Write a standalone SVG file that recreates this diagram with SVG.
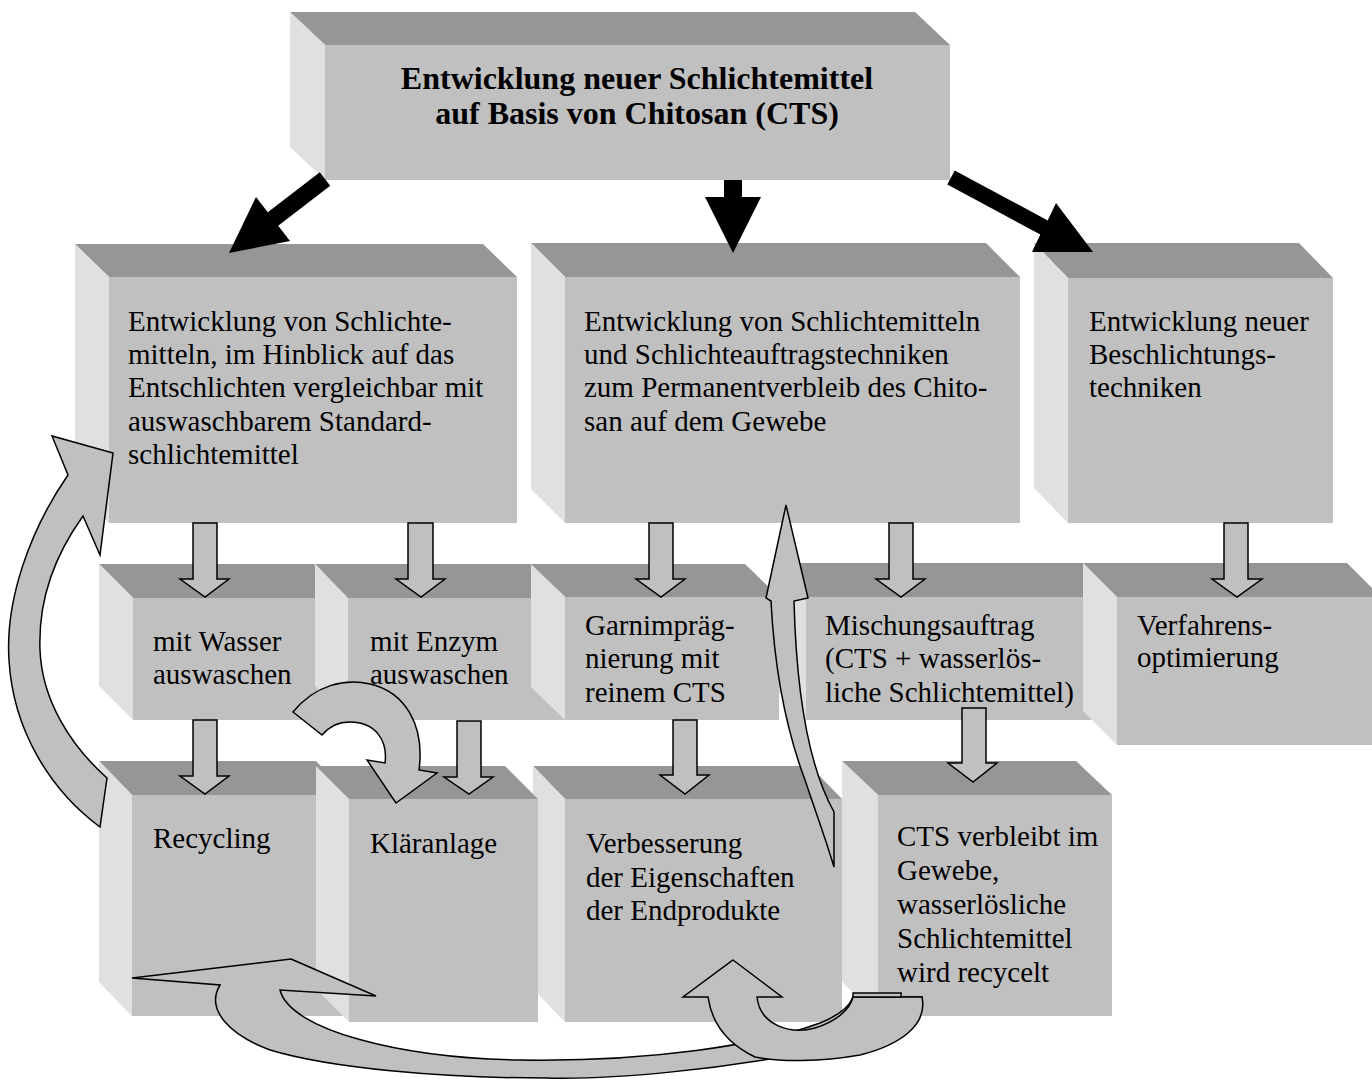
<svg xmlns="http://www.w3.org/2000/svg" width="1372" height="1088" viewBox="0 0 1372 1088">
<style>
.f{fill:#c0c0c0}
.t{fill:#969696}
.l{fill:#e0e0e0}
.txt{font-family:"Liberation Serif","Times New Roman",serif;font-size:29px;fill:#000}
.ttl{font-family:"Liberation Serif","Times New Roman",serif;font-size:32px;font-weight:bold;fill:#000;text-anchor:middle}
.blk{fill:#000}
.ga{fill:#c0c0c0;stroke:#000;stroke-width:1.5;stroke-linejoin:miter}
</style>
<rect width="1372" height="1088" fill="#fff"/>
<g id="nodes">
<g id="n-top">
<polygon class="t" points="290,12 915,12 950,45 325,45"/>
<polygon class="l" points="290,12 325,45 325,180 290,147"/>
<rect class="f" x="325" y="45" width="625" height="135"/>
<text class="ttl" x="637" y="89">Entwicklung neuer Schlichtemittel</text>
<text class="ttl" x="637" y="124">auf Basis von Chitosan (CTS)</text>
</g>
<g id="n-b2">
<polygon class="t" points="75,244 483,244 517,277 109,277"/>
<polygon class="l" points="75,244 109,277 109,523 75,490"/>
<rect class="f" x="109" y="277" width="408" height="246"/>
<text class="txt" x="128" y="331">Entwicklung von Schlichte-</text>
<text class="txt" x="128" y="364">mitteln, im Hinblick auf das</text>
<text class="txt" x="128" y="397">Entschlichten vergleichbar mit</text>
<text class="txt" x="128" y="431">auswaschbarem Standard-</text>
<text class="txt" x="128" y="464">schlichtemittel</text>
</g>
<g id="n-b3">
<polygon class="t" points="531,243 986,243 1020,277 565,277"/>
<polygon class="l" points="531,243 565,277 565,523 531,489"/>
<rect class="f" x="565" y="277" width="455" height="246"/>
<text class="txt" x="584" y="331">Entwicklung von Schlichtemitteln</text>
<text class="txt" x="584" y="364">und Schlichteauftragstechniken</text>
<text class="txt" x="584" y="397">zum Permanentverbleib des Chito-</text>
<text class="txt" x="584" y="431">san auf dem Gewebe</text>
</g>
<g id="n-b4">
<polygon class="t" points="1034,243 1299,243 1333,278 1068,278"/>
<polygon class="l" points="1034,243 1068,278 1068,523 1034,488"/>
<rect class="f" x="1068" y="278" width="265" height="245"/>
<text class="txt" x="1089" y="331">Entwicklung neuer</text>
<text class="txt" x="1089" y="364">Beschlichtungs-</text>
<text class="txt" x="1089" y="397">techniken</text>
</g>
<g id="n-wasser">
<polygon class="t" points="99,564 314,564 348,598 133,598"/>
<polygon class="l" points="99,564 133,598 133,720 99,686"/>
<rect class="f" x="133" y="598" width="215" height="122"/>
<text class="txt" x="153" y="651">mit Wasser</text>
<text class="txt" x="153" y="684">auswaschen</text>
</g>
<g id="n-enzym">
<polygon class="t" points="315,564 532,564 565,598 348,598"/>
<polygon class="l" points="315,564 348,598 348,720 315,686"/>
<rect class="f" x="348" y="598" width="217" height="122"/>
<text class="txt" x="370" y="651">mit Enzym</text>
<text class="txt" x="370" y="684">auswaschen</text>
</g>
<g id="n-misch">
<polygon class="t" points="772,563 1083,563 1117,597 806,597"/>
<polygon class="l" points="772,563 806,597 806,720 772,686"/>
<rect class="f" x="806" y="597" width="311" height="123"/>
<text class="txt" x="825" y="635">Mischungsauftrag</text>
<text class="txt" x="825" y="668">(CTS + wasserlös-</text>
<text class="txt" x="825" y="702">liche Schlichtemittel)</text>
</g>
<g id="n-garn">
<polygon class="t" points="531,564 745,564 779,597 565,597"/>
<polygon class="l" points="531,564 565,597 565,720 531,687"/>
<rect class="f" x="565" y="597" width="214" height="123"/>
<text class="txt" x="585" y="635">Garnimpräg-</text>
<text class="txt" x="585" y="668">nierung mit</text>
<text class="txt" x="585" y="702">reinem CTS</text>
</g>
<g id="n-verf">
<polygon class="t" points="1083,563 1347,563 1381,597 1117,597"/>
<polygon class="l" points="1083,563 1117,597 1117,745 1083,711"/>
<rect class="f" x="1117" y="597" width="264" height="148"/>
<text class="txt" x="1137" y="635">Verfahrens-</text>
<text class="txt" x="1137" y="667">optimierung</text>
</g>
<g id="n-recycling">
<polygon class="t" points="99,761 316,761 349,795 132,795"/>
<polygon class="l" points="99,761 132,795 132,1016 99,982"/>
<rect class="f" x="132" y="795" width="217" height="221"/>
<text class="txt" x="153" y="848">Recycling</text>
</g>
<g id="n-verbesserung">
<polygon class="t" points="533,766 810,766 842,799 565,799"/>
<polygon class="l" points="533,766 565,799 565,1022 533,989"/>
<rect class="f" x="565" y="799" width="277" height="223"/>
<text class="txt" x="586" y="853">Verbesserung</text>
<text class="txt" x="586" y="887">der Eigenschaften</text>
<text class="txt" x="586" y="920">der Endprodukte</text>
</g>
<g id="n-klaer">
<polygon class="t" points="316,766 505,766 538,799 349,799"/>
<polygon class="l" points="316,766 349,799 349,1022 316,989"/>
<rect class="f" x="349" y="799" width="189" height="223"/>
<text class="txt" x="370" y="853">Kläranlage</text>
</g>
<g id="n-cts">
<polygon class="t" points="842,761 1076,761 1112,795 878,795"/>
<polygon class="l" points="842,761 878,795 878,1016 842,982"/>
<rect class="f" x="878" y="795" width="234" height="221"/>
<text class="txt" x="897" y="846">CTS verbleibt im</text>
<text class="txt" x="897" y="880">Gewebe,</text>
<text class="txt" x="897" y="914">wasserlösliche</text>
<text class="txt" x="897" y="948">Schlichtemittel</text>
<text class="txt" x="897" y="982">wird recycelt</text>
</g>
</g>
<g id="connectors">
<polygon class="blk" points="319.8,172.3 330.2,185.7 278.2,225.7 290,241 229,253 256,197 267.8,212.3"/>
<polygon class="blk" points="724,180 742,180 742,197 761,197 733,253 705,197 724,197"/>
<polygon class="blk" points="954.7,170.4 1047.7,220.4 1056,203 1093,252 1032,252 1040.3,234.6 947.3,184.6"/>
<polygon class="ga" points="193,523 217,523 217,579 229,579 205,597 180,579 193,579"/>
<polygon class="ga" points="408,523 433,523 433,579 445,579 421,597 396,579 408,579"/>
<polygon class="ga" points="649,523 673,523 673,579 685,579 661,597 636,579 649,579"/>
<polygon class="ga" points="889,523 913,523 913,579 925,579 901,597 876,579 889,579"/>
<polygon class="ga" points="1224,523 1248,523 1248,579 1262,579 1237,597 1212,579 1224,579"/>
<polygon class="ga" points="193,720 217,720 217,776 229,776 205,794 180,776 193,776"/>
<polygon class="ga" points="457,721 481,721 481,777 493,777 469,794 444,777 457,777"/>
<polygon class="ga" points="673,720 697,720 697,775 709,775 685,794 660,775 673,775"/>
<polygon class="ga" points="962,708 986,708 986,763 997,763 973,782 948,763 962,763"/>
<path class="ga" d="M113,453 L52,436 L68,475 C30,530 5,600 9,660 C13,730 50,790 100,827 L107,778 C70,745 42,700 40,650 C38,600 55,555 83,516 L100,555 Z"/>
<path class="ga" d="M293,712 C315,685 345,678 370,684 C405,692 425,725 419,770 L437,773 L396,803 L367,760 L385,763 C388,740 375,722 350,722 C338,722 328,728 322,735 Z"/>
<path class="ga" d="M786,505 L808,598 L794,601 C796,680 805,760 834,812 L834,867 C826,840 815,810 805,780 C790,740 775,680 771,601 L766,598 Z"/>
<path class="ga" d="M291,959 L376,996 L280,990 C290,1030 400,1058 520,1060 C650,1062 760,1045 820,1023 C840,1015 850,1005 853,997 L922,997 C925,1020 880,1045 793,1055 C720,1068 620,1080 546,1078 C440,1078 330,1068 270,1050 C230,1035 205,1010 220,985 L132,978 Z"/>
<path class="ga" d="M733,960 L782,997 L757,997 C760,1025 790,1035 815,1028 C835,1022 850,1010 853,997 L922,997 C928,1025 900,1045 860,1055 C820,1062 780,1062 755,1057 C730,1045 712,1025 708,997 L683,997 Z"/>
<rect class="ga" x="853" y="993" width="48" height="4"/>
</g>
</svg>
